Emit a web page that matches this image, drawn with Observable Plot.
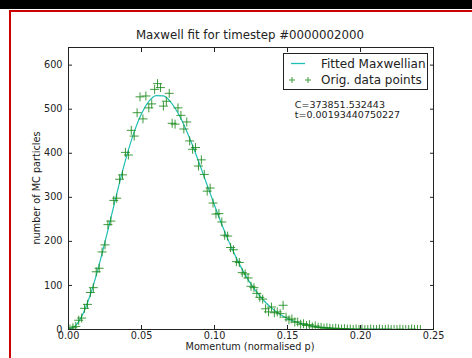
<!DOCTYPE html>
<html><head><meta charset="utf-8">
<script src="https://cdn.jsdelivr.net/npm/d3@7"></script>
<script src="https://cdn.jsdelivr.net/npm/@observablehq/plot@0.6"></script>
<style>
html,body{margin:0;padding:0;background:#fff;width:472px;height:358px;overflow:hidden;font-family:"DejaVu Sans",sans-serif;color:#222;}
#topbar{position:absolute;left:0;top:0;width:472px;height:9px;background:#000;}
#border{position:absolute;left:9px;top:10px;width:470px;height:360px;border-left:2px solid #cc0000;border-top:2px solid #cc0000;}
#chart{position:absolute;left:11px;top:12px;}
.lbl{position:absolute;white-space:nowrap;line-height:1;}
#title{left:250px;top:30px;font-size:11.8px;transform:translateX(-50%);}
#xlabel{left:250px;top:342px;font-size:9.7px;transform:translateX(-50%);}
#ylabel{left:37px;top:188px;font-size:9.7px;transform:translate(-50%,-50%) rotate(-90deg);}
#legend{position:absolute;left:283px;top:53px;width:143px;height:35px;border:1px solid #222;background:#fff;}
#legend .t{position:absolute;left:37px;font-size:12px;line-height:1;white-space:nowrap;}
#legend svg{position:absolute;left:0;top:0;}
</style></head>
<body>
<div id="topbar"></div>
<div id="border"></div>
<div id="chart"></div>
<div class="lbl" id="title">Maxwell fit for timestep #0000002000</div>
<div class="lbl" id="xlabel">Momentum (normalised p)</div>
<div class="lbl" id="ylabel">number of MC particles</div>
<div id="legend">
  <svg width="36" height="35">
    <line x1="7" x2="21" y1="9.5" y2="9.5" stroke="#20bfb5" stroke-width="1.3"/>
    <path d="M5,26h6M8,23v6M21,26h6M24,23v6" stroke="#1a8a1a" stroke-width="1" fill="none" opacity="0.8"/>
  </svg>
  <div class="t" style="top:4px">Fitted Maxwellian</div>
  <div class="t" style="top:19.5px">Orig. data points</div>
</div>
<script>
// Fitted Maxwellian
const fitP = [0,0.005,0.01,0.015,0.02,0.025,0.03,0.035,0.04,0.045,0.05,0.055,0.06,0.065,0.07,0.075,0.08,0.085,0.09,0.095,0.1,0.105,0.11,0.115,0.12,0.125,0.13,0.135,0.14,0.145,0.15,0.155,0.16,0.165,0.17,0.175,0.18,0.185,0.19,0.195,0.2,0.205,0.21,0.215,0.22,0.225,0.23,0.235,0.24];
const fitN = [0,9.3,36.4,79.4,134.9,198.8,266.6,333.7,395.6,448.6,489.8,517.5,530.7,530.0,516.2,491.3,457.5,417.4,373.2,327.4,282.0,238.5,198.3,162.0,130.2,102.9,80.1,61.3,46.2,34.3,25.1,18.1,12.8,9.0,6.2,4.2,2.8,1.8,1.2,0.75,0.48,0.3,0.18,0.11,0.06,0.04,0.02,0.01,0.01];

// Original data points
const dataP = [0.001,0.003,0.005,0.007,0.009,0.011,0.013,0.015,0.017,0.019,0.021,0.023,0.025,0.027,0.029,0.031,0.033,0.035,0.037,0.039,0.041,0.043,0.045,0.047,0.049,0.051,0.053,0.055,0.057,0.059,0.061,0.063,0.065,0.067,0.069,0.071,0.073,0.075,0.077,0.079,0.081,0.083,0.085,0.087,0.089,0.091,0.093,0.095,0.097,0.099,0.101,0.103,0.105,0.107,0.109,0.111,0.113,0.115,0.117,0.119,0.121,0.123,0.125,0.127,0.129,0.131,0.133,0.135,0.137,0.139,0.141,0.143,0.145,0.147,0.149,0.151,0.153,0.155,0.157,0.159,0.161,0.163,0.165,0.167,0.169,0.171,0.173,0.175,0.177,0.179,0.181,0.183,0.185,0.187,0.189,0.191,0.193,0.195,0.197,0.199,0.201,0.203,0.205,0.207,0.209,0.211,0.213,0.215,0.217,0.219,0.221,0.223,0.225,0.227,0.229,0.231,0.233,0.235,0.237,0.239,0.241];
const dataN = [1,4,7,21,26,48,57,84,95,131,139,176,192,238,246,293,298,341,351,402,396,452,439,492,528,478,530,503,512,545,558,549,507,518,536,468,466,503,486,455,471,428,409,413,371,385,352,314,321,287,262,263,244,214,212,186,181,154,152,129,126,117,98,95,82,73,69,47,40,51,38,40,36,55,28,22,24,17,17,12,13,9,11,6,8,5,5,3,4,3,2,3,2,1,2,1,1,0,1,0,1,0,0,1,0,0,1,0,0,1,0,0,0,1,0,0,0,1,0,0,0];

// Axis ticks
const xTicks = [0,0.05,0.1,0.15,0.2,0.25];
const yTicks = [0,100,200,300,400,500,600];

// Fit parameters annotation
const annText = ["C=373851.532443", "t=0.00193440750227"];
const annX = 0.155, annY = 519;

const fitRows = fitP.map((p, i) => ({p, n: fitN[i]}));
const dataRows = dataP.map((p, i) => ({p, n: dataN[i]}));

const chart = Plot.plot({
  width: 461, height: 346,
  marginLeft: 57, marginRight: 39, marginTop: 35, marginBottom: 29,
  style: {fontFamily: "DejaVu Sans, sans-serif", fontSize: "9.7px", color: "#222", background: "transparent", overflow: "visible"},
  x: {domain: [0, 0.25]},
  y: {domain: [0, 640]},
  marks: [
    Plot.axisX(xTicks, {anchor: "bottom", tickSize: -4, tickPadding: 6.5, tickFormat: d3.format(".2f"), label: null, stroke: "#222"}),
    Plot.axisX(xTicks, {anchor: "top", tickSize: -4, tickFormat: () => "", label: null, stroke: "#222"}),
    Plot.axisY(yTicks, {anchor: "left", tickSize: -4, tickPadding: 10, tickFormat: d3.format("d"), label: null, stroke: "#222"}),
    Plot.axisY(yTicks, {anchor: "right", tickSize: -4, tickFormat: () => "", label: null, stroke: "#222"}),
    Plot.line(fitRows, {x: "p", y: "n", stroke: "#20bfb5", strokeWidth: 1.2, curve: "monotone-x"}),
    Plot.dot(dataRows, {x: "p", y: "n", symbol: "plus", r: 3, stroke: "#1a8a1a", strokeWidth: 1, strokeOpacity: 0.85, clip: "frame"}),
    Plot.text([annText.join("\n")], {x: annX, y: annY, text: d => d, textAnchor: "start", lineAnchor: "top", lineHeight: 1.05, fontSize: 9.5, fill: "#222"}),
    Plot.frame({stroke: "#222", strokeWidth: 1})
  ]
});
document.getElementById("chart").appendChild(chart);
</script>
</body></html>
